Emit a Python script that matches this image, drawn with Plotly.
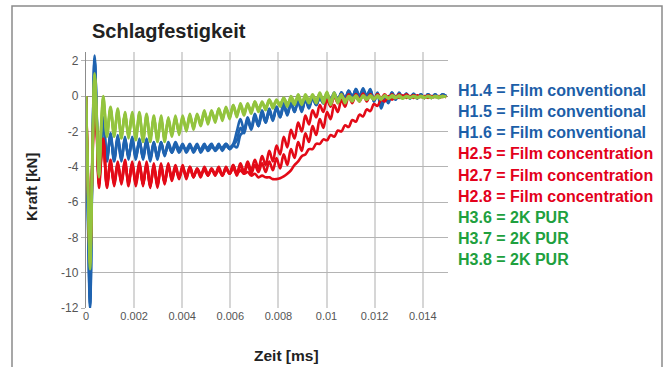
import plotly.graph_objects as go

TIME = [0, 0.00008, 0.00017, 0.00026, 0.00036, 0.00045, 0.00054, 0.00063,
        0.00072, 0.00087, 0.00102, 0.00117, 0.00132, 0.00147, 0.00162, 0.00177, 0.00192, 0.00207,
        0.00222, 0.00237, 0.00252, 0.00267, 0.00282, 0.00297, 0.00312, 0.00327, 0.00342, 0.00357,
        0.00372, 0.00387, 0.00402, 0.00417, 0.00432, 0.00447, 0.00462, 0.00477, 0.00492, 0.00507,
        0.00522, 0.00537, 0.00552, 0.00567, 0.00582, 0.00597, 0.00612, 0.00627, 0.00642, 0.00657,
        0.00672, 0.00687, 0.00702, 0.00717, 0.00732, 0.00747, 0.00762, 0.00777, 0.00792, 0.00807,
        0.00822, 0.00837, 0.00852, 0.00867, 0.00882, 0.00897, 0.00912, 0.00927, 0.00942, 0.00957,
        0.00972, 0.00987, 0.01002, 0.01017, 0.01032, 0.01047, 0.01062, 0.01077, 0.01092, 0.01107,
        0.01122, 0.01137, 0.01152, 0.01167, 0.01182, 0.01197, 0.01212, 0.01227, 0.01242, 0.01257,
        0.01272, 0.01287, 0.01302, 0.01317, 0.01332, 0.01347, 0.01362, 0.01377, 0.01392, 0.01407,
        0.01422, 0.01437, 0.01452, 0.01467, 0.01482, 0.01497]

H1_4 = [0, -7, -12, -4, 2.3, -1.5, -5.0, -2.8,
        -1.3, -3.6, -2.2, -3.7, -2.3, -3.6, -2.4, -3.5, -2.4, -3.5,
        -2.5, -3.5, -2.5, -3.6, -2.6, -3.5, -2.7, -3.3, -2.7, -3.2,
        -2.7, -3.1, -2.8, -3.1, -2.8, -3.1, -2.8, -3.1, -2.8, -3.0,
        -2.8, -3.0, -2.8, -3.0, -2.7, -2.9, -2.7, -2.0, -1.3, -1.9,
        -1.2, -1.8, -1.0, -1.6, -0.8, -1.4, -0.7, -1.3, -0.6, -1.1,
        -0.4, -1.0, -0.3, -0.9, -0.2, -0.8, -0.1, -0.6, -0.1, -0.5,
        0.0, -0.4, 0.0, -0.3, 0.1, -0.3, 0.2, -0.2, 0.3, -0.1,
        0.4, 0.0, 0.45, 0.0, 0.4, -0.3, 0.1, -0.7, -0.2, -0.3,
        0.2, -0.2, 0.15, -0.1, 0.15, -0.15, 0.1, -0.1, 0.1, -0.1,
        0.1, -0.1, 0.1, -0.1, 0.1, 0.0]
H1_5 = [0, -6, -11.5, -4, 2.0, -1.2, -4.8, -2.6,
        -1.4, -3.5, -2.3, -3.6, -2.4, -3.7, -2.5, -3.4, -2.5, -3.6,
        -2.4, -3.6, -2.6, -3.7, -2.7, -3.4, -2.6, -3.3, -2.8, -3.2,
        -2.8, -3.2, -2.9, -3.0, -2.7, -3.2, -2.9, -3.0, -2.7, -3.1,
        -2.9, -3.0, -2.7, -3.1, -2.8, -3.0, -2.8, -2.9, -2.2, -2.0,
        -1.4, -1.9, -1.2, -1.7, -1.0, -1.5, -0.9, -1.3, -0.7, -1.2,
        -0.6, -1.0, -0.4, -0.9, -0.3, -0.8, -0.2, -0.7, -0.1, -0.5,
        -0.1, -0.4, 0.1, -0.3, 0.1, -0.2, 0.2, -0.1, 0.3, 0.0,
        0.3, -0.1, 0.35, -0.1, 0.3, -0.3, 0.2, -0.5, 0.0, -0.2,
        0.2, -0.1, 0.1, -0.1, 0.15, -0.1, 0.1, -0.15, 0.1, -0.1,
        0.1, -0.05, 0.1, -0.1, 0.05, 0.0]
H1_6 = [0, -6.5, -11.8, -4.2, 2.1, -1.4, -4.9, -2.7,
        -1.2, -3.7, -2.1, -3.6, -2.2, -3.5, -2.3, -3.6, -2.3, -3.4,
        -2.6, -3.4, -2.4, -3.5, -2.6, -3.6, -2.6, -3.4, -2.6, -3.1,
        -2.6, -3.0, -2.7, -3.2, -2.9, -3.0, -2.7, -3.2, -2.9, -2.9,
        -2.7, -3.1, -2.9, -2.9, -2.7, -3.0, -2.8, -2.5, -1.8, -2.1,
        -1.3, -1.8, -1.1, -1.7, -0.9, -1.5, -0.8, -1.4, -0.6, -1.2,
        -0.5, -1.1, -0.4, -0.8, -0.3, -0.9, -0.2, -0.6, 0.0, -0.5,
        -0.1, -0.4, 0.1, -0.2, 0.2, -0.3, 0.2, -0.2, 0.3, -0.1,
        0.4, 0.0, 0.3, 0.05, 0.35, -0.2, 0.15, -0.6, -0.1, -0.4,
        0.1, -0.2, 0.2, -0.1, 0.1, -0.1, 0.15, -0.1, 0.05, -0.1,
        0.1, -0.1, 0.05, -0.05, 0.1, 0.0]

H2_5 = [0, -5, -9.3, -4, 0.0, -2.0, -5.0, -3.5,
        -2.4, -5.2, -3.6, -5.0, -3.8, -4.9, -3.7, -5.0, -3.7, -5.0,
        -3.8, -5.1, -3.8, -5.2, -3.9, -5.2, -3.9, -5.0, -3.9, -4.8,
        -4.0, -4.7, -4.0, -4.6, -4.1, -4.6, -4.1, -4.5, -4.1, -4.5,
        -4.1, -4.5, -4.1, -4.5, -4.0, -4.4, -3.9, -4.4, -3.8, -4.3,
        -3.7, -4.2, -3.6, -4.1, -3.4, -3.9, -3.1, -3.7, -2.8, -3.3,
        -2.3, -2.9, -1.9, -2.4, -1.5, -2.0, -1.1, -1.6, -0.8, -1.2,
        -0.5, -0.9, -0.2, -0.6, 0.0, -0.4, 0.1, -0.3, 0.1, -0.3,
        0.1, -0.2, 0.15, -0.2, 0.1, -0.15, 0.1, -0.1, 0.1, -0.15,
        0.05, -0.1, 0.1, -0.1, 0.05, -0.1, 0.05, -0.1, 0.0, -0.1,
        0.0, -0.1, 0.0, -0.05, 0.0, -0.05]
H2_7 = [0, -4.5, -9.0, -3.8, 0.3, -1.8, -4.8, -3.3,
        -2.6, -5.0, -3.7, -5.1, -3.9, -4.8, -3.6, -5.1, -3.8, -4.9,
        -3.7, -5.0, -3.9, -5.1, -3.8, -5.1, -4.0, -4.9, -3.8, -4.7,
        -4.1, -4.6, -3.9, -4.7, -4.0, -4.5, -4.2, -4.6, -4.0, -4.4,
        -4.2, -4.4, -4.0, -4.5, -4.1, -4.4, -3.9, -4.5, -3.9, -4.4,
        -3.9, -4.4, -3.9, -4.3, -3.8, -4.3, -3.7, -4.2, -3.5, -4.1,
        -3.3, -3.9, -3.0, -3.5, -2.6, -3.1, -2.1, -2.6, -1.7, -2.2,
        -1.3, -1.8, -0.9, -1.3, -0.5, -0.9, -0.2, -0.6, 0.0, -0.4,
        0.1, -0.3, 0.1, -0.3, 0.1, -0.2, 0.1, -0.2, 0.05, -0.15,
        0.1, -0.1, 0.05, -0.1, 0.1, -0.05, 0.05, -0.1, 0.0, -0.1,
        0.05, -0.05, 0.0, -0.1, 0.0, -0.05]
H2_8 = [0, -4.8, -9.5, -4.2, -0.2, -2.2, -5.2, -3.6,
        -2.5, -5.1, -3.8, -4.9, -3.7, -5.0, -3.8, -4.9, -3.8, -5.1,
        -3.9, -5.0, -3.7, -5.1, -4.0, -5.0, -3.8, -4.9, -4.0, -4.6,
        -3.9, -4.6, -4.1, -4.5, -4.0, -4.6, -4.1, -4.4, -4.2, -4.5,
        -4.1, -4.4, -4.2, -4.5, -4.1, -4.4, -4.1, -4.4, -4.2, -4.4,
        -4.3, -4.5, -4.4, -4.6, -4.5, -4.6, -4.6, -4.7, -4.7, -4.65,
        -4.55, -4.4, -4.2, -3.9, -3.7, -3.4, -3.3, -3.0, -3.0, -2.7,
        -2.7, -2.45, -2.5, -2.2, -2.3, -1.95, -2.0, -1.65, -1.75, -1.35,
        -1.45, -1.05, -1.15, -0.75, -0.85, -0.45, -0.55, -0.2, -0.3, 0.0,
        -0.2, 0.0, -0.1, 0.05, -0.1, 0.0, -0.1, 0.05, -0.05, 0.0,
        -0.1, 0.0, -0.05, 0.0, -0.05, 0.0]

H3_6 = [0, -5, -9.5, -4, 1.3, -1.5, -4.5, -1.8,
        -0.1, -2.2, -0.7, -2.3, -0.8, -2.3, -0.9, -2.3, -1.0, -2.4,
        -1.0, -2.5, -1.1, -2.5, -1.1, -2.6, -1.2, -2.5, -1.3, -2.2,
        -1.2, -2.1, -1.2, -1.9, -1.1, -1.8, -1.0, -1.6, -0.9, -1.5,
        -0.8, -1.4, -0.8, -1.3, -0.6, -1.2, -0.6, -1.1, -0.5, -1.0,
        -0.4, -0.9, -0.4, -0.8, -0.3, -0.7, -0.3, -0.6, -0.2, -0.5,
        -0.1, -0.5, -0.1, -0.4, 0.0, -0.4, 0.0, -0.3, 0.1, -0.3,
        0.2, -0.3, 0.2, -0.4, 0.1, -0.3, 0.0, -0.3, 0.0, -0.2,
        0.0, -0.2, 0.0, -0.2, 0.0, -0.15, 0.0, -0.15, 0.0, -0.1,
        0.0, -0.1, 0.0, -0.1, 0.0, -0.1, 0.0, -0.1, 0.0, -0.1,
        0.0, -0.1, 0.0, -0.05, 0.0, -0.05]
H3_7 = [0, -4.6, -9.0, -3.6, 1.1, -1.3, -4.2, -1.6,
        0.0, -2.0, -0.6, -2.1, -0.9, -2.2, -1.0, -2.4, -1.1, -2.3,
        -0.9, -2.6, -1.2, -2.4, -1.2, -2.5, -1.3, -2.4, -1.4, -2.3,
        -1.3, -2.0, -1.1, -2.0, -1.2, -1.7, -1.1, -1.7, -1.0, -1.4,
        -0.9, -1.5, -0.7, -1.2, -0.7, -1.3, -0.5, -1.0, -0.6, -1.1,
        -0.5, -0.8, -0.3, -0.9, -0.4, -0.6, -0.2, -0.7, -0.3, -0.4,
        -0.2, -0.6, 0.0, -0.3, -0.1, -0.5, 0.1, -0.2, 0.0, -0.4,
        0.1, -0.2, 0.25, -0.5, 0.0, -0.2, 0.1, -0.4, 0.0, -0.1,
        -0.1, -0.3, 0.05, -0.1, -0.05, -0.2, 0.05, -0.1, 0.0, -0.15,
        0.05, -0.05, -0.05, -0.15, 0.0, -0.05, -0.05, -0.1, 0.0, -0.05,
        -0.05, -0.1, 0.0, -0.05, -0.05, 0.0]
H3_8 = [0, -5.2, -9.8, -4.3, 1.2, -1.6, -4.6, -2.0,
        -0.3, -2.3, -0.8, -2.2, -0.7, -2.4, -1.0, -2.2, -0.9, -2.5,
        -1.1, -2.4, -1.0, -2.6, -1.2, -2.4, -1.1, -2.6, -1.2, -2.1,
        -1.1, -2.2, -1.3, -1.8, -1.0, -1.9, -1.1, -1.5, -0.8, -1.6,
        -0.9, -1.3, -0.7, -1.4, -0.7, -1.1, -0.5, -1.2, -0.4, -0.9,
        -0.5, -1.0, -0.3, -0.7, -0.4, -0.8, -0.2, -0.5, -0.3, -0.6,
        -0.1, -0.4, -0.2, -0.5, 0.1, -0.3, -0.1, -0.4, 0.0, -0.2,
        0.15, -0.4, 0.1, -0.3, 0.2, -0.4, 0.0, -0.2, -0.1, -0.3,
        0.05, -0.2, -0.05, -0.2, 0.05, -0.1, -0.05, -0.2, 0.05, -0.1,
        -0.05, -0.1, 0.05, -0.1, -0.05, -0.1, 0.0, -0.05, -0.05, -0.1,
        0.0, -0.05, -0.05, -0.1, 0.0, -0.05]

SERIES_NAMES = ["H1.4 = Film conventional", "H1.5 = Film conventional", "H1.6 = Film conventional",
                "H2.5 = Film concentration", "H2.7 = Film concentration", "H2.8 = Film concentration",
                "H3.6 = 2K PUR", "H3.7 = 2K PUR", "H3.8 = 2K PUR"]
SERIES_VALUES = [H1_4, H1_5, H1_6, H2_5, H2_7, H2_8, H3_6, H3_7, H3_8]

X_TICKS = [0, 0.002, 0.004, 0.006, 0.008, 0.01, 0.012, 0.014]
X_TICK_LABELS = ["0", "0.002", "0.004", "0.006", "0.008", "0.01", "0.012", "0.014"]
Y_TICKS = [2, 0, -2, -4, -6, -8, -10, -12]
Y_TICK_LABELS = ["2", "0", "-2", "-4", "-6", "-8", "-10", "-12"]

LINE_COLORS = ["#1f63b0"] * 3 + ["#e30a17"] * 3 + ["#93c43e"] * 3
TEXT_COLORS = ["#1c5ea8"] * 3 + ["#e3001b"] * 3 + ["#20a03e"] * 3

FONT = "Liberation Sans, Arial, sans-serif"

fig = go.Figure()
for name, vals, col in zip(SERIES_NAMES, SERIES_VALUES, LINE_COLORS):
    fig.add_trace(go.Scatter(x=TIME, y=vals, mode="lines", name=name,
                             line=dict(color=col, width=2.6, shape="spline", smoothing=1.0),
                             showlegend=False))

# plot area in pixels: x 86..448, y 52..308
L, R, T, B = 86, 448, 52, 308
W, H = 667, 367
def px(xp):
    return (xp - L) / (R - L)
def py(yp):
    return (B - yp) / (B - T)

annotations = []
legend_y = [90, 111, 132, 153, 175, 196, 217, 238, 259]
for name, col, yy in zip(SERIES_NAMES, TEXT_COLORS, legend_y):
    annotations.append(dict(text="<b>" + name + "</b>", x=px(456), y=py(yy), xref="paper", yref="paper",
                            xanchor="left", yanchor="middle", showarrow=False,
                            font=dict(family=FONT, size=16, color=col)))
annotations.append(dict(text="<b>Schlagfestigkeit</b>", x=px(90), y=py(31), xref="paper", yref="paper",
                        xanchor="left", yanchor="middle", showarrow=False,
                        font=dict(family=FONT, size=20, color="#222222")))
annotations.append(dict(text="<b>Kraft [kN]</b>", x=px(31), y=py(187), xref="paper", yref="paper",
                        xanchor="center", yanchor="middle", showarrow=False, textangle=-90,
                        font=dict(family=FONT, size=15, color="#222222")))
annotations.append(dict(text="<b>Zeit [ms]</b>", x=px(286), y=py(355), xref="paper", yref="paper",
                        xanchor="center", yanchor="middle", showarrow=False,
                        font=dict(family=FONT, size=15.5, color="#222222")))

shapes = [dict(type="rect", xref="paper", yref="paper", x0=px(12), x1=px(662), y0=py(380), y1=py(6),
               line=dict(color="#8a8a8a", width=1.5), fillcolor="rgba(0,0,0,0)", layer="below")]

fig.update_layout(
    width=W, height=H,
    margin=dict(l=L, r=W - R, t=T, b=H - B),
    paper_bgcolor="white", plot_bgcolor="white",
    annotations=annotations, shapes=shapes,
    xaxis=dict(range=[0, 0.01505], tickvals=X_TICKS, ticktext=X_TICK_LABELS,
               showgrid=True, gridcolor="#d6d6d6", gridwidth=1.5, zeroline=False,
               showline=False, ticks="", tickfont=dict(family=FONT, size=11, color="#555555")),
    yaxis=dict(range=[-12, 2.5], tickvals=Y_TICKS, ticktext=Y_TICK_LABELS,
               showgrid=True, gridcolor="#b4b4b4", gridwidth=1, zeroline=True, zerolinecolor="#8c8c8c",
               zerolinewidth=1.3, showline=True, linecolor="#8c8c8c", linewidth=1.3,
               ticks="outside", ticklen=4, tickcolor="#b4b4b4",
               tickfont=dict(family=FONT, size=12, color="#555555")),
)

fig.write_html("out.html", config={"displayModeBar": False},
               post_script="document.body.style.margin='0';document.body.style.overflow='hidden';")
